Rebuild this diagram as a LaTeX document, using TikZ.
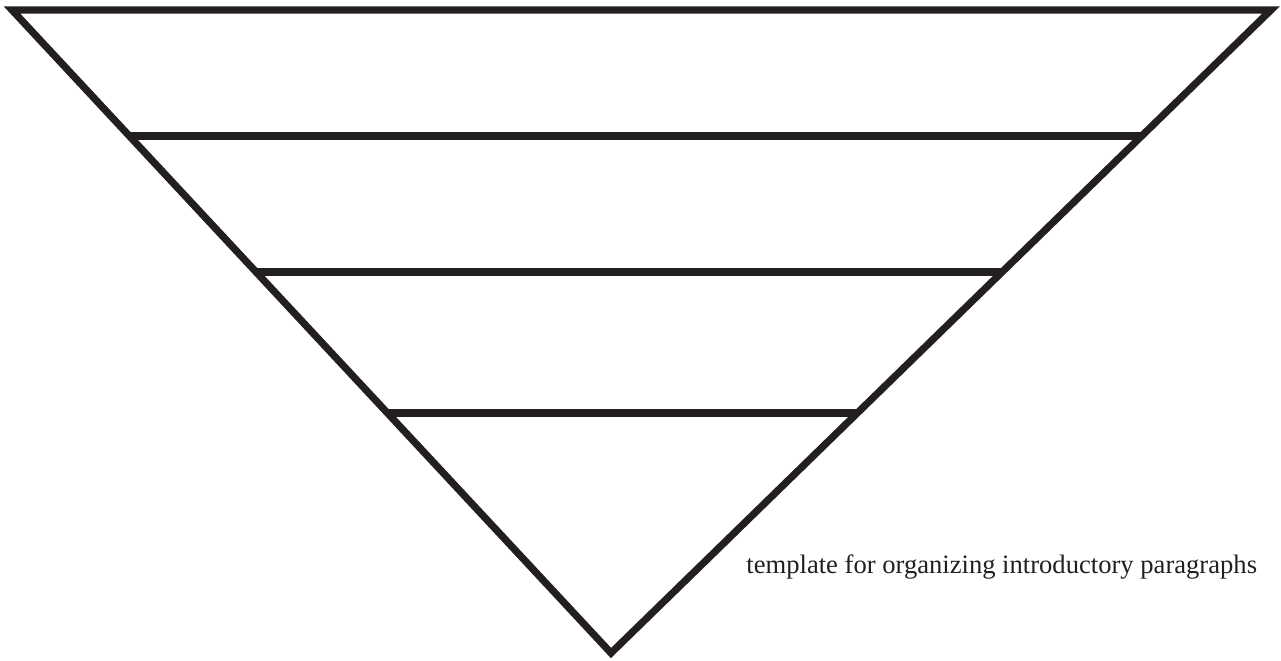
\documentclass[tikz,border=0pt]{standalone}
\usepackage{fontspec}
\setmainfont{Liberation Serif}
\usetikzlibrary{calc}
\definecolor{ink}{HTML}{231F20}
\tikzset{
  funnel/.style={draw=ink, line width=3.6pt, line join=miter},
  band/.style={draw=ink, line width=3.6pt}
}
\begin{document}
\begin{tikzpicture}[x=0.5pt, y=-0.5pt]
  \useasboundingbox (0,0) rectangle (1281,660);
  \coordinate (topleft)  at (12,10);
  \coordinate (topright) at (1271,10);
  \coordinate (apex)     at (611,653);

  \draw[funnel] (topleft) -- (topright) -- (apex) -- cycle;

  % level dividers
  \coordinate (l1) at ($(topleft)!0.1960!(apex)$);
  \coordinate (r1) at ($(topright)!0.1960!(apex)$);
  \coordinate (l2) at ($(topleft)!0.4075!(apex)$);
  \coordinate (r2) at ($(topright)!0.4075!(apex)$);
  \coordinate (l3) at ($(topleft)!0.6267!(apex)$);
  \coordinate (r3) at ($(topright)!0.6267!(apex)$);
  \draw[band] (l1) -- (r1);
  \draw[band] (l2) -- (r2);
  \draw[band] (l3) -- (r3);

  \node (caption) [anchor=base west, inner sep=0pt, text=ink,
                   font=\fontsize{13.3}{15}\selectfont] at (746,573)
                  {template for organizing introductory paragraphs};
\end{tikzpicture}
\end{document}
